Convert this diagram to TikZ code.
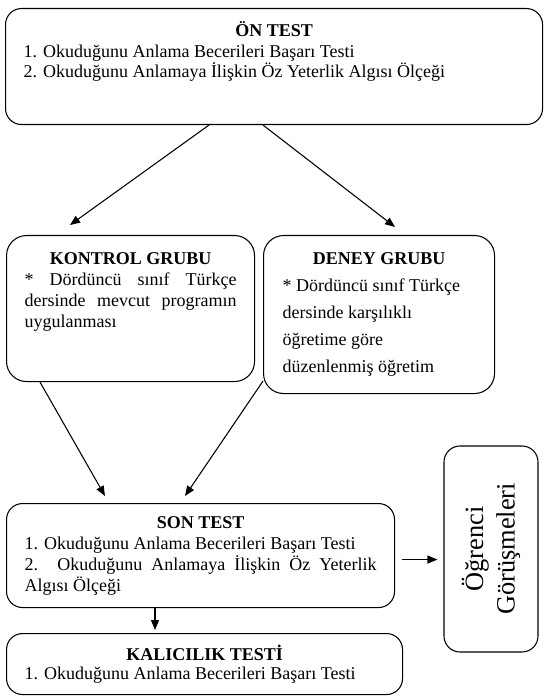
\documentclass[tikz,border=0pt]{standalone}
\usepackage{fontspec}
\setmainfont{Liberation Serif}
\usetikzlibrary{arrows.meta}
\hbadness=10000

\newcommand{\kutumetin}[3]{\parbox[c][#2][t]{#1}{#3}}
\newcommand{\baslik}[2]{{\centering\rule{0pt}{#1}\textbf{#2}\par}}

\begin{document}
\begin{tikzpicture}[x=0.75pt, y=-0.75pt,
		kutu/.style={draw=black, line width=0.8pt, rounded corners=12pt, anchor=north west, inner xsep=13.5pt, inner ysep=0pt},
		ok/.style={draw=black, line width=0.8pt, -{Triangle[length=7.5pt, width=6pt]}}]
		\useasboundingbox (0,0) rectangle (553,698);

		% kutular
		\node[kutu, font=\fontsize{13.5}{15.4}\selectfont] (on) at (5,8) {\kutumetin{375.75pt}{87pt}{\baslik{21pt}{ÖN TEST}1. Okuduğunu Anlama Becerileri Başarı Testi\par 2. Okuduğunu Anlamaya İlişkin Öz Yeterlik Algısı Ölçeği}};
		\node[kutu, rounded corners=15pt, font=\fontsize{13.5}{15.75}\selectfont] (kontrol) at (6,235) {\kutumetin{159pt}{109.5pt}{\baslik{21.75pt}{KONTROL GRUBU}* Dördüncü sınıf Türkçe\linebreak dersinde mevcut programın\linebreak uygulanması}};
		\node[kutu, rounded corners=15pt, inner xsep=14.25pt, font=\fontsize{13.5}{20.25}\selectfont] (deney) at (263,235) {\kutumetin{144.75pt}{118.5pt}{\baslik{21.75pt}{DENEY GRUBU}* Dördüncü sınıf Türkçe\\ dersinde karşılıklı\\ öğretime göre\\ düzenlenmiş öğretim}};
		\node[kutu, font=\fontsize{13.5}{15.75}\selectfont] (son) at (6,503) {\kutumetin{264pt}{78pt}{\baslik{18.75pt}{SON TEST}1. Okuduğunu Anlama Becerileri Başarı Testi\par 2. Okuduğunu Anlamaya İlişkin Öz Yeterlik\linebreak Algısı Ölçeği}};
		\node[kutu, font=\fontsize{13.5}{14.5}\selectfont] (kal) at (6,633) {\kutumetin{270pt}{45.75pt}{\baslik{20.25pt}{KALICILIK TESTİ}1. Okuduğunu Anlama Becerileri Başarı Testi}};
		\node[draw=black, line width=0.8pt, rounded corners=12pt, rotate=90, minimum width=154.5pt, minimum height=70.5pt, align=center, font=\fontsize{19.8}{23.5}\selectfont] (ogr) at (491,549) {Öğrenci\\Görüşmeleri};

		% oklar
		\draw[ok] ([xshift=153pt]on.south west) -- ([xshift=48pt, yshift=7.5pt]kontrol.north west);
		\draw[ok] ([xshift=193.5pt]on.south west) -- ([xshift=99pt, yshift=6pt]deney.north west);
		\draw[ok] ([xshift=25.5pt]kontrol.south west) -- ([xshift=74.25pt, yshift=5.25pt]son.north west);
		\draw[ok] ([yshift=9.75pt]deney.south west) -- ([xshift=134.25pt, yshift=5.25pt]son.north west);
		\draw[ok] ([xshift=111.75pt]son.south west) -- ([xshift=111.75pt, yshift=2.25pt]kal.north west);
		\draw[ok] ([xshift=5.25pt, yshift=-3pt]son.east) -- ([xshift=-4.5pt, yshift=-3pt]son.east -| ogr.north);
	\end{tikzpicture}
\end{document}
